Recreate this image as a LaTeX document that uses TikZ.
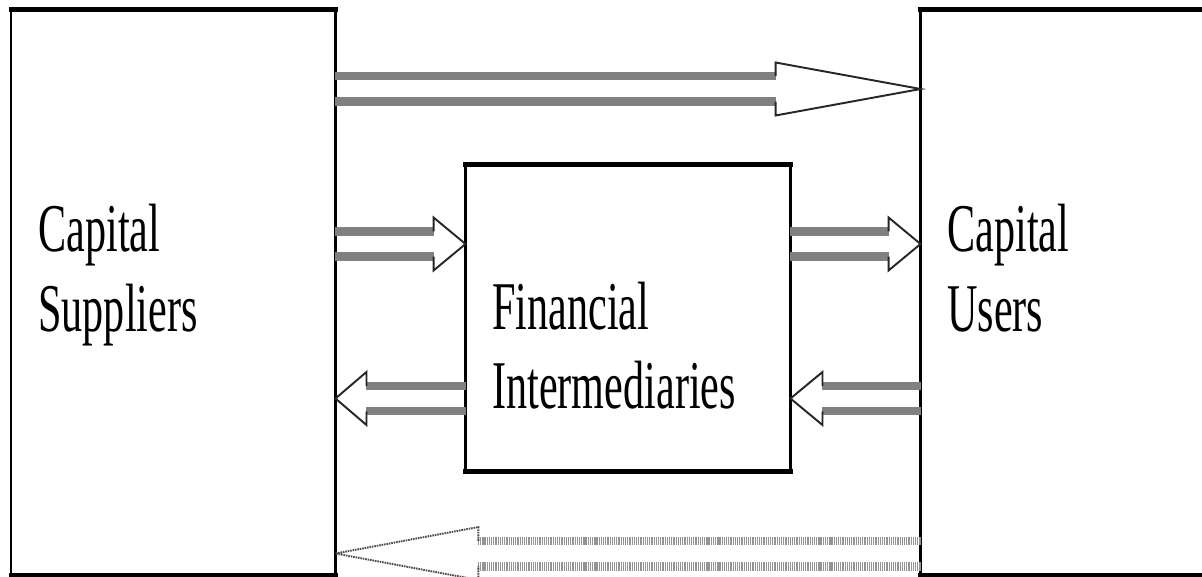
\documentclass[tikz,border=0pt]{standalone}
\usepackage{fontspec}
\setmainfont{Liberation Serif}
\usetikzlibrary{calc}

\tikzset{
  box/.style={draw, line width=1.53pt, outer sep=0pt, inner sep=0pt},
  boxedge/.style={line width=2.55pt, line cap=rect},
  boxtext/.style={inner sep=0pt, font=\fontsize{24}{27.8}\selectfont},
  blockshaft/.style={draw=gray, line width=0.17cm},
  blockhead/.style={draw=black!85, line width=1.1pt, line join=miter},
  faint/.style={blockshaft/.append style={draw=gray!85, dash pattern=on 0.7pt off 0.55pt},
                blockhead/.append style={draw=black!70, dash pattern=on 0.9pt off 0.5pt}}
}
\newcommand{\shaftoff}{0.255cm}
\newcommand{\headoff}{0.53cm}
% hollow block arrow: tail, tip, head length
\newcommand{\hollowarrow}[3]{%
  \coordinate (tail) at (#1);
  \coordinate (tip) at (#2);
  \coordinate (hb) at ($(tip)!#3!(tail)$);
  \draw[blockshaft] ($(tail)+(0,\shaftoff)$) -- ($(hb)+(0,\shaftoff)$)
    ($(tail)-(0,\shaftoff)$) -- ($(hb)-(0,\shaftoff)$);
  \draw[blockhead] ($(hb)+(0,\shaftoff)$) -- ($(hb)+(0,\headoff)$) -- (tip)
    -- ($(hb)-(0,\headoff)$) -- ($(hb)-(0,\shaftoff)$);
}

\begin{document}
\begin{tikzpicture}[x=0.02cm, y=-0.02cm]
  \useasboundingbox (0,0) rectangle (1202,577);
  \clip (0,0) rectangle (1202,577);

  % boxes
  \node[box, minimum width=6.49cm, minimum height=11.31cm] (sup) at (173.25,292.25) {};
  \node[box, minimum width=6.5cm, minimum height=6.14cm] (fin) at (628,318) {};
  \node[box, minimum width=6.79cm, minimum height=11.31cm] (usr) at (1090.25,292.25) {};
  \foreach \b in {sup,fin,usr}
    \draw[boxedge] (\b.north west) -- (\b.north east) (\b.south west) -- (\b.south east);

  % texts
  \node[boxtext, anchor=base west] (suptext) at (38,252)
    {\scalebox{1}[1.62]{\begin{tabular}[t]{@{}l@{}}Capital\\Suppliers\end{tabular}}};
  \node[boxtext, anchor=base west] (fintext) at (492,329)
    {\scalebox{1}[1.62]{\begin{tabular}[t]{@{}l@{}}Financial\\Intermediaries\end{tabular}}};
  \node[boxtext, anchor=base west] (usrtext) at (947,252)
    {\scalebox{1}[1.62]{\begin{tabular}[t]{@{}l@{}}Capital\\Users\end{tabular}}};

  % arrow levels
  \coordinate (lvtop) at (0,89);
  \coordinate (lvin) at (0,244);
  \coordinate (lvout) at (0,398.5);
  \coordinate (lvback) at (0,553.5);

  \hollowarrow{sup.east |- lvtop}{usr.west |- lvtop}{2.9cm}
  \hollowarrow{sup.east |- lvin}{fin.west |- lvin}{0.64cm}
  \hollowarrow{fin.east |- lvin}{usr.west |- lvin}{0.64cm}
  \hollowarrow{fin.west |- lvout}{sup.east |- lvout}{0.62cm}
  \hollowarrow{usr.west |- lvout}{fin.east |- lvout}{0.64cm}
  \begin{scope}[faint]
    \hollowarrow{usr.west |- lvback}{sup.east |- lvback}{2.86cm}
  \end{scope}
\end{tikzpicture}
\end{document}
